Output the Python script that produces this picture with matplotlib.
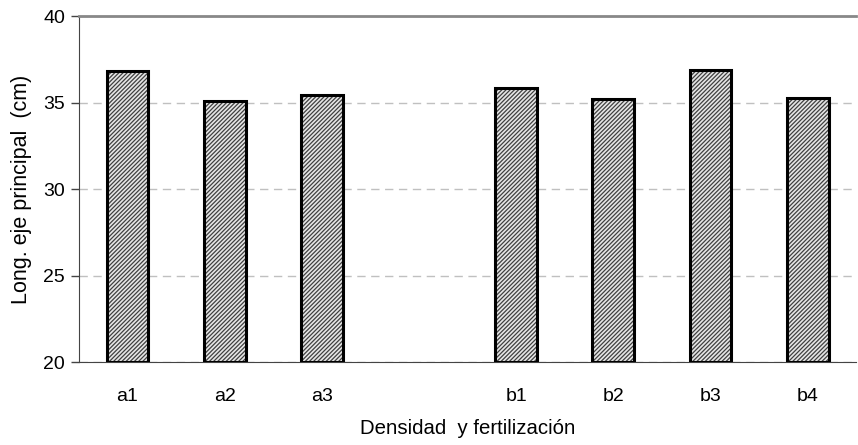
import matplotlib
matplotlib.use('Agg')
import matplotlib.pyplot as plt
import numpy as np

plt.rcParams['font.family'] = ['Liberation Sans', 'DejaVu Sans']
plt.rcParams['hatch.linewidth'] = 0.9

# data (empty slot between groups)
labels = ['a1', 'a2', 'a3', '', 'b1', 'b2', 'b3', 'b4']
values = [36.8, 35.1, 35.45, np.nan, 35.85, 35.2, 36.9, 35.25]

fig = plt.figure(figsize=(8.58, 4.45), dpi=100)
ax = fig.add_axes([0.092, 0.1865, 0.906, 0.7775])

x = np.arange(len(labels))
ax.grid(axis='y', color='#c0c0c0', linestyle=(0, (6, 4)), linewidth=1.0)
ax.set_axisbelow(True)

heights = [v - 20 if not np.isnan(v) else 0 for v in values]
ax.bar(x, heights, bottom=20, width=0.43, color='#e6e6e6',
       edgecolor='#404040', hatch='////////', linewidth=0, zorder=2)
# black outline drawn separately so hatch stays gray
for xi, h in zip(x, heights):
    if h > 0:
        ax.bar(xi, h, bottom=20, width=0.43, fill=False,
               edgecolor='black', linewidth=2.2, zorder=3)

ax.set_xlim(-0.5, 7.5)
ax.set_ylim(20, 40)
ax.set_yticks([20, 25, 30, 35, 40])
ax.set_xticks(x)
ax.set_xticklabels(labels)
ax.tick_params(axis='x', length=0, pad=18.5, labelsize=14)
ax.tick_params(axis='y', length=6, width=1, color='#444444', labelsize=14, pad=4)

ax.spines['right'].set_visible(False)
ax.spines['top'].set_color('#888888')
ax.spines['top'].set_linewidth(2)
ax.spines['left'].set_color('#444444')
ax.spines['bottom'].set_color('#444444')

ax.set_ylabel('Long. eje principal  (cm)', fontsize=15.5, labelpad=8)
ax.set_xlabel('Densidad  y fertilización', fontsize=14.7, labelpad=10)

fig.savefig('out.png', dpi=100)
